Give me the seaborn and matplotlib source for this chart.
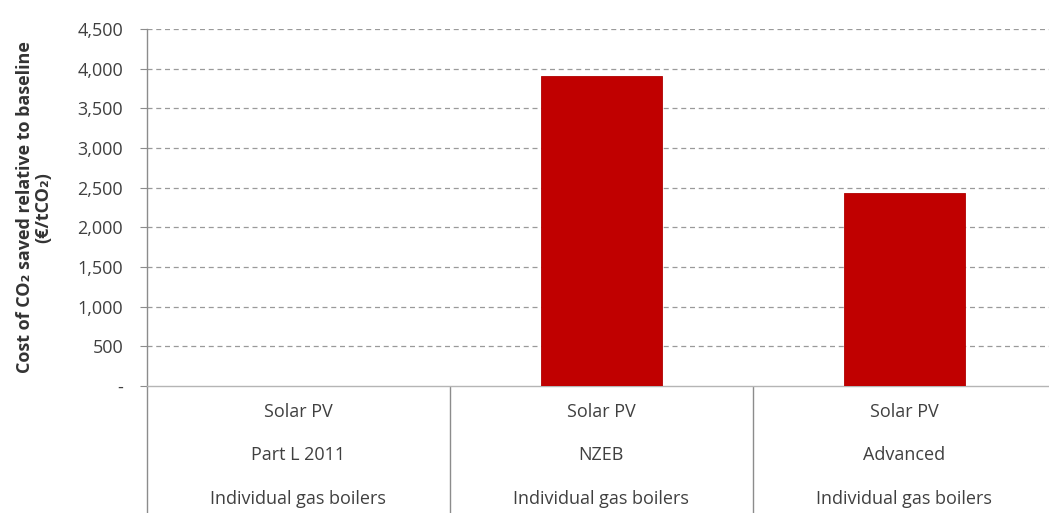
import matplotlib
matplotlib.use("Agg")
import matplotlib.pyplot as plt
import matplotlib.ticker as mticker
import seaborn as sns
import pandas as pd

# Scenario data
technology = ["Solar PV", "Solar PV", "Solar PV"]
standard = ["Part L 2011", "NZEB", "Advanced"]
heating = ["Individual gas boilers", "Individual gas boilers", "Individual gas boilers"]
cost_per_tco2 = [0, 3910, 2435]

y_ticks = [0, 500, 1000, 1500, 2000, 2500, 3000, 3500, 4000, 4500]

sns.set_theme(style="white")
plt.rcParams["font.family"] = ["Open Sans", "DejaVu Sans"]

text_color = "#404040"
line_color = "#8c8c8c"
fs = 13

labels = [f"{t}\n{s}\n{h}" for t, s, h in zip(technology, standard, heating)]
df = pd.DataFrame({"scenario": labels, "cost": cost_per_tco2})

fig = plt.figure(figsize=(10.49, 5.13), dpi=100)
ax = fig.add_axes([0.140, 0.2476, 0.8665, 0.696])

sns.barplot(data=df, x="scenario", y="cost", color="#C00000", width=0.4,
            saturation=1, edgecolor="#B00000", linewidth=0.6, ax=ax, zorder=3)

ax.set_xlim(-0.5, 2.5)
ax.set_ylim(0, 4500)
ax.set_yticks(y_ticks)
ax.yaxis.set_major_formatter(mticker.FuncFormatter(
    lambda v, p: "-" if v == 0 else f"{int(v):,}"))

# dashed horizontal gridlines
for v in y_ticks[1:]:
    ax.axhline(v, color="#9a9a9a", linestyle=(0, (4, 3)), linewidth=0.9, zorder=1)

for side in ["top", "right"]:
    ax.spines[side].set_visible(False)
ax.spines["left"].set_color(line_color)
ax.spines["bottom"].set_color("#b5b5b5")
ax.spines["left"].set_linewidth(1.0)
ax.spines["bottom"].set_linewidth(1.0)

ax.tick_params(axis="y", which="major", direction="out", length=5, width=0.8,
               color=line_color, labelsize=fs, labelcolor=text_color, pad=12, left=True)

# category labels with separator lines between groups
ax.set_xticks([0, 1, 2])
ax.set_xticklabels(labels, linespacing=2.82)
ax.tick_params(axis="x", which="major", length=0, labelsize=fs,
               labelcolor=text_color, pad=12)
ax.set_xticks([-0.5, 0.5, 1.5], minor=True)
ax.tick_params(axis="x", which="minor", direction="out", length=95, width=1.0,
               color=line_color, bottom=True)

ax.set_xlabel("")
ax.set_ylabel("Cost of CO\u2082 saved relative to baseline\n(\u20ac/tCO\u2082)",
              fontsize=fs, fontweight="bold", color="#333333", labelpad=18,
              linespacing=1.05)

fig.savefig("out.png", dpi=100)
